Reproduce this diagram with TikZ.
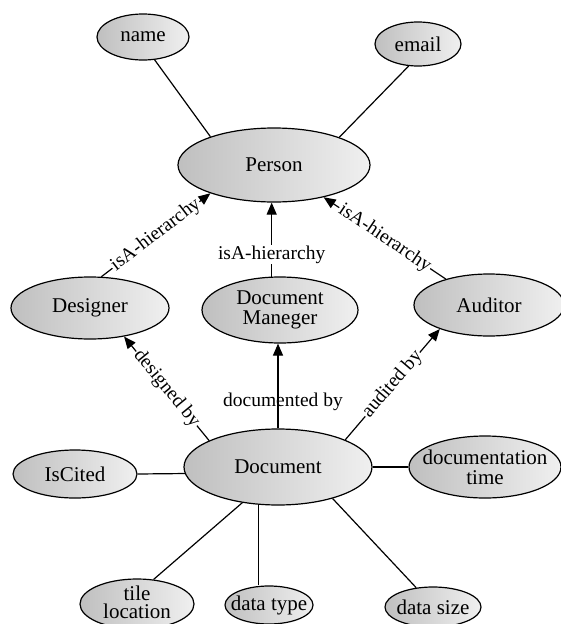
\documentclass[tikz,border=0pt]{standalone}
\usepackage{fontspec}
\setmainfont{Liberation Serif}
\usetikzlibrary{shapes.geometric,arrows.meta}
\begin{document}
\begin{tikzpicture}[x=1pt,y=-1pt,
  ent/.style={ellipse, draw=black, line width=1.2pt, left color=black!25, right color=black!6, inner sep=0pt},
  nl/.style={font=\fontsize{21}{20}\selectfont, align=center, inner sep=0pt},
  conn/.style={line width=1.2pt},
  arr/.style={line width=1.2pt, -{Triangle[length=12pt,width=10pt]}},
  lab/.style={font=\fontsize{19.5}{19.5}\selectfont, inner sep=1pt},
  slab/.style={lab, sloped, fill=white}]
\useasboundingbox (0,0) rectangle (561,624);

\node[ent, minimum width=92pt, minimum height=46pt, label={[nl]center:name}] (name) at (143,37) {};
\node[ent, minimum width=86pt, minimum height=44pt, label={[nl]center:email}] (email) at (418,44) {};
\node[ent, minimum width=192pt, minimum height=74pt, label={[nl]center:Person}] (person) at (274,165) {};
\node[ent, minimum width=158pt, minimum height=62pt, label={[nl]center:Designer}] (designer) at (90,308) {};
\node[ent, minimum width=156pt, minimum height=66pt, label={[nl]center:{Document\\Maneger}}] (dm) at (280,310) {};
\node[ent, minimum width=150pt, minimum height=62pt, label={[nl]center:Auditor}] (auditor) at (489,305) {};
\node[ent, minimum width=188pt, minimum height=76pt, label={[nl]center:Document}] (document) at (278,467) {};
\node[ent, minimum width=124pt, minimum height=48pt, label={[nl]center:IsCited}] (iscited) at (75,474) {};
\node[ent, minimum width=152pt, minimum height=62pt, label={[nl]center:{documentation\\time}}] (doctime) at (485,467) {};
\node[ent, minimum width=114pt, minimum height=50pt, label={[nl, font=\fontsize{21}{18}\selectfont, yshift=2pt]center:{tile\\location}}] (tile) at (137,604) {};
\node[ent, minimum width=88pt, minimum height=38pt, label={[nl]center:data type}] (datatype) at (269,605) {};
\node[ent, minimum width=96pt, minimum height=40pt, label={[nl]center:data size}] (datasize) at (433,607) {};

\draw[conn] (name.-63) -- (person.156);
\draw[conn] (email.247) -- (person.23);
\draw[arr] (designer.70) -- node[slab]{isA-hierarchy} (person.204);
\draw[arr] (dm.104.5) -- node[lab, fill=white, pos=0.3]{isA-hierarchy} (dm.104.5 |- person.south);
\draw[arr] (auditor.149) -- node[slab]{isA-hierarchy} (person.327);
\draw[arr] (document.159) -- node[slab]{designed by} (designer.-40);
\draw[arr] (document.north) -- node[lab, pos=0.31, xshift=5pt]{documented by} (document.north |- dm.south);
\draw[arr] (document.22) -- node[slab]{audited by} (auditor.206);
\draw[conn] (iscited.east) -- (document.184);
\draw[conn] (document.east) -- (doctime.west);
\draw[conn] (document.225) -- (tile.56);
\draw[conn] (document.243) -- (document.243 |- datatype.north);
\draw[conn] (document.330) -- (datasize.131);
\end{tikzpicture}
\end{document}
